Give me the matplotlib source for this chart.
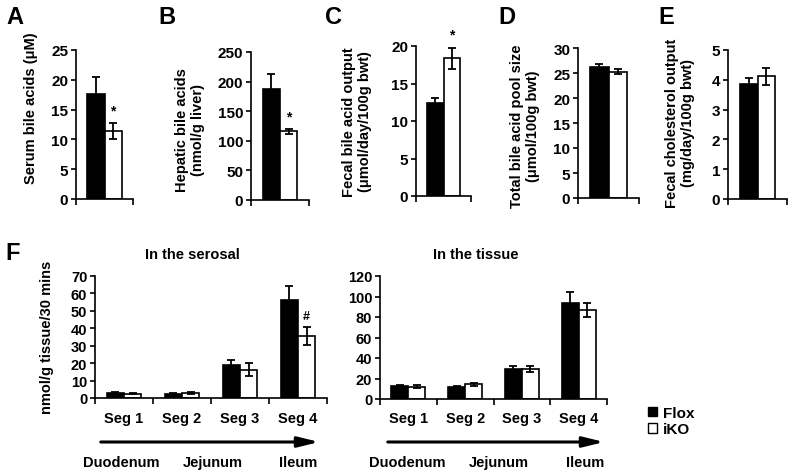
import matplotlib
matplotlib.use('Agg')
import matplotlib.pyplot as plt
from matplotlib.patches import Patch, FancyArrowPatch
import numpy as np

plt.rcParams['font.family'] = ['Liberation Sans', 'DejaVu Sans']
plt.rcParams['font.weight'] = 'bold'
plt.rcParams['axes.linewidth'] = 1.2

W, H = 792, 477

# single-bar panels A-E, Flox then iKO
groups = ['Flox', 'iKO']
serum_ba = [17.6, 11.4]
serum_err = [2.8, 1.3]
hepatic_ba = [187, 116]
hepatic_err = [25, 4]
fecal_ba = [12.4, 18.4]
fecal_err = [0.7, 1.4]
pool_size = [26.2, 25.3]
pool_err = [0.7, 0.5]
fecal_chol = [3.87, 4.12]
fecal_chol_err = [0.18, 0.28]

# panel F
segments = ['Seg 1', 'Seg 2', 'Seg 3', 'Seg 4']
regions = ['Duodenum', 'Jejunum', 'Ileum']
serosal_flox = [2.9, 2.5, 19.0, 56.5]
serosal_flox_err = [0.5, 0.5, 2.7, 7.5]
serosal_iko = [2.5, 2.9, 16.3, 35.5]
serosal_iko_err = [0.4, 0.6, 3.8, 5.0]
tissue_flox = [13.0, 12.0, 29.3, 93.7]
tissue_flox_err = [1.0, 1.0, 2.7, 10.5]
tissue_iko = [12.0, 14.3, 29.0, 86.8]
tissue_iko_err = [1.5, 1.5, 3.0, 7.0]

fig = plt.figure(figsize=(W / 100, H / 100), dpi=100)


def px_axes(l, r, t, b):
    return fig.add_axes([l / W, 1 - b / H, (r - l) / W, (b - t) / H])


def ftext(x, y, s, **kw):
    fig.text(x / W, 1 - y / H, s, ha='center', va='center', **kw)


def style(ax, ymax, step, ncat, fs=11):
    ax.set_xlim(0, ncat)
    ax.set_ylim(0, ymax)
    ax.set_yticks(np.arange(0, ymax + step / 2, step))
    ax.set_xticks(np.arange(0, ncat + 1))
    ax.set_xticklabels([])
    for s in ['top', 'right']:
        ax.spines[s].set_visible(False)
    ax.tick_params(axis='y', direction='out', length=3.5, width=1.2, labelsize=fs, pad=2)
    ax.tick_params(axis='x', which='major', direction='out', length=4, width=1.2)


def bars(ax, x, flox, ferr, iko, ierr):
    x = np.asarray(x, dtype=float)
    ekw = dict(lw=1.3, capthick=1.3, ecolor='black')
    ax.bar(x + 0.35, flox, 0.3, color='black', edgecolor='black', lw=1.2, label=groups[0],
           yerr=ferr, capsize=2.8, error_kw=ekw)
    ax.bar(x + 0.65, iko, 0.3, color='white', edgecolor='black', lw=1.2, label=groups[1],
           yerr=ierr, capsize=2.8, error_kw=ekw)


single = [
    ((76, 133, 51, 200), serum_ba, serum_err, 25, 5, 'Serum bile acids (μM)', 31, 108, 'A', 15, True),
    ((251, 309, 53, 201), hepatic_ba, hepatic_err, 250, 50, 'Hepatic bile acids\n(nmol/g liver)', 190, 130, 'B', 167, True),
    ((416, 471, 47, 197), fecal_ba, fecal_err, 20, 5, 'Fecal bile acid output\n(μmol/day/100g bwt)', 357, 122, 'C', 334, True),
    ((578, 639, 49, 199), pool_size, pool_err, 30, 5, 'Total bile acid pool size\n(μmol/100g bwt)', 525, 126, 'D', 507, False),
    ((728, 787, 51, 200), fecal_chol, fecal_chol_err, 5, 1, 'Fecal cholesterol output\n(mg/day/100g bwt)', 680, 123, 'E', 666, False),
]

for box, vals, errs, ymax, step, lab, lx, ly, letter, ltx, star in single:
    ax = px_axes(*box)
    bars(ax, [0], [vals[0]], [errs[0]], [vals[1]], [errs[1]])
    style(ax, ymax, step, 1)
    if star:
        ax.text(0.65, vals[1] + errs[1] + ymax * 0.04, '*', ha='center', va='bottom',
                fontsize=10, clip_on=False)
    ftext(lx, ly, lab, rotation=90, fontsize=10.5, linespacing=1.1)
    ftext(ltx, 17, letter, fontsize=17)

# panel F
xs = np.arange(len(segments))
f_panels = [
    ((95, 327, 277, 399), serosal_flox, serosal_flox_err, serosal_iko, serosal_iko_err, 70, 10,
     'In the serosal', 192, 98, 322, [121, 213, 298]),
    ((380, 607, 277, 400), tissue_flox, tissue_flox_err, tissue_iko, tissue_iko_err, 120, 20,
     'In the tissue', 476, 385, 607, [407, 499, 585]),
]
for i, (box, fl, fle, ik, ike, ymax, step, title, tx, a1, a2, rx) in enumerate(f_panels):
    ax = px_axes(*box)
    bars(ax, xs, fl, fle, ik, ike)
    style(ax, ymax, step, len(segments), fs=10.5)
    ax.set_xticks(xs + 0.5, minor=True)
    ax.set_xticklabels(segments, minor=True, fontsize=10.5)
    ax.tick_params(axis='x', which='minor', length=0, pad=9)
    if i == 0:
        ax.text(3.65, ik[3] + ike[3] + 3, '#', ha='center', va='bottom', fontsize=9)
    ftext(tx, 255, title, fontsize=10.5)
    fig.add_artist(FancyArrowPatch(
        (a1 / W, 1 - 443 / H), (a2 / W, 1 - 443 / H), transform=fig.transFigure,
        arrowstyle='-|>,head_length=0.9,head_width=0.22', mutation_scale=14, lw=2.2,
        color='black'))
    for name, x in zip(regions, rx):
        ftext(x, 463, name, fontsize=10.5)

ftext(13, 253, 'F', fontsize=17)
ftext(47, 337, 'nmol/g tissue/30 mins', rotation=90, fontsize=10.5)

handles = [Patch(facecolor='black', edgecolor='black', label=groups[0]),
           Patch(facecolor='white', edgecolor='black', label=groups[1])]
fig.legend(handles=handles, loc='upper left', bbox_to_anchor=(642 / W, 1 - 401 / H),
           frameon=False, fontsize=11, handlelength=0.55, handleheight=0.55,
           handletextpad=0.4, labelspacing=0.15, borderaxespad=0)

fig.savefig('out.png', dpi=100)
